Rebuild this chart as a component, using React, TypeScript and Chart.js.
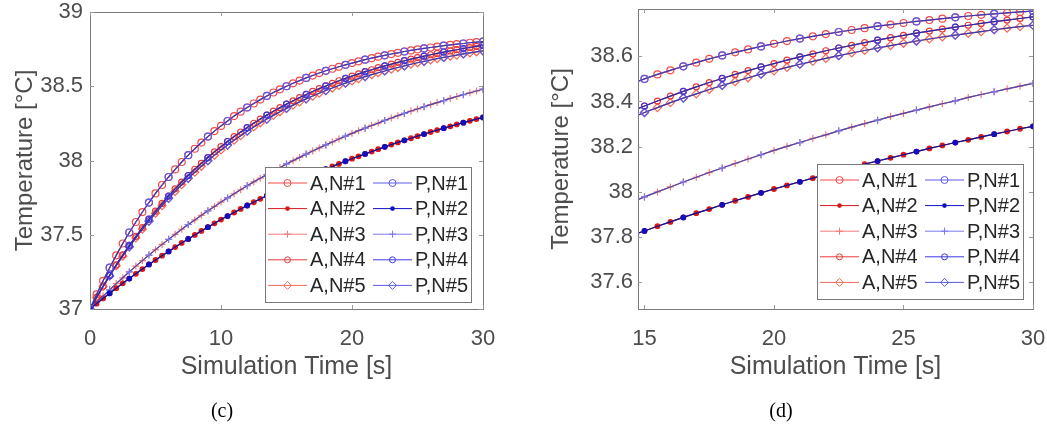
import React, { useEffect, useRef } from 'react';
import { Chart, registerables } from 'chart.js';

Chart.register(...registerables);

// ---- data ----
const timeS = [0, 0.5, 1, 1.5, 2, 2.5, 3, 3.5, 4, 4.5, 5, 5.5, 6, 6.5, 7, 7.5, 8, 8.5, 9, 9.5, 10, 10.5, 11, 11.5, 12, 12.5, 13, 13.5, 14, 14.5, 15, 15.5, 16, 16.5, 17, 17.5, 18, 18.5, 19, 19.5, 20, 20.5, 21, 21.5, 22, 22.5, 23, 23.5, 24, 24.5, 25, 25.5, 26, 26.5, 27, 27.5, 28, 28.5, 29, 29.5, 30];

const tempN1 = [37.000, 37.098, 37.190, 37.278, 37.361, 37.441, 37.515, 37.586, 37.653, 37.717, 37.778, 37.835, 37.889, 37.940, 37.990, 38.036, 38.079, 38.121, 38.161, 38.198, 38.233, 38.266, 38.299, 38.329, 38.357, 38.384, 38.410, 38.435, 38.458, 38.479, 38.500, 38.520, 38.538, 38.556, 38.572, 38.589, 38.604, 38.618, 38.631, 38.644, 38.656, 38.668, 38.679, 38.689, 38.699, 38.708, 38.717, 38.725, 38.734, 38.741, 38.748, 38.755, 38.761, 38.767, 38.773, 38.779, 38.784, 38.788, 38.793, 38.797, 38.801];
const tempN2 = [37.000, 37.036, 37.071, 37.106, 37.140, 37.173, 37.205, 37.237, 37.269, 37.300, 37.330, 37.359, 37.388, 37.417, 37.445, 37.472, 37.499, 37.526, 37.551, 37.577, 37.602, 37.626, 37.650, 37.674, 37.697, 37.719, 37.742, 37.763, 37.785, 37.806, 37.826, 37.847, 37.866, 37.886, 37.905, 37.923, 37.942, 37.960, 37.977, 37.995, 38.012, 38.028, 38.044, 38.060, 38.076, 38.092, 38.107, 38.122, 38.136, 38.150, 38.164, 38.178, 38.192, 38.205, 38.218, 38.230, 38.243, 38.255, 38.267, 38.279, 38.290];
const tempN3 = [37.000, 37.044, 37.087, 37.129, 37.171, 37.210, 37.250, 37.289, 37.326, 37.363, 37.400, 37.435, 37.469, 37.503, 37.537, 37.569, 37.600, 37.631, 37.661, 37.691, 37.720, 37.748, 37.776, 37.803, 37.830, 37.856, 37.881, 37.905, 37.929, 37.953, 37.977, 37.999, 38.021, 38.043, 38.064, 38.085, 38.105, 38.125, 38.145, 38.164, 38.183, 38.201, 38.218, 38.236, 38.252, 38.270, 38.286, 38.302, 38.317, 38.333, 38.347, 38.362, 38.376, 38.390, 38.403, 38.418, 38.431, 38.443, 38.456, 38.468, 38.480];
const tempN4 = [37.000, 37.079, 37.155, 37.227, 37.297, 37.364, 37.428, 37.489, 37.548, 37.605, 37.659, 37.711, 37.761, 37.809, 37.855, 37.899, 37.941, 37.981, 38.020, 38.058, 38.093, 38.128, 38.161, 38.192, 38.222, 38.251, 38.279, 38.306, 38.332, 38.356, 38.380, 38.402, 38.424, 38.445, 38.465, 38.484, 38.502, 38.520, 38.537, 38.553, 38.568, 38.583, 38.598, 38.611, 38.625, 38.637, 38.649, 38.661, 38.672, 38.683, 38.693, 38.703, 38.712, 38.721, 38.730, 38.738, 38.746, 38.754, 38.761, 38.768, 38.775];
const tempN5 = [37.000, 37.077, 37.151, 37.223, 37.291, 37.356, 37.419, 37.479, 37.537, 37.592, 37.645, 37.696, 37.745, 37.792, 37.837, 37.880, 37.921, 37.961, 37.999, 38.036, 38.071, 38.104, 38.137, 38.167, 38.197, 38.226, 38.253, 38.279, 38.304, 38.328, 38.351, 38.373, 38.395, 38.415, 38.434, 38.453, 38.471, 38.488, 38.505, 38.521, 38.536, 38.551, 38.565, 38.578, 38.591, 38.603, 38.615, 38.626, 38.637, 38.648, 38.658, 38.668, 38.677, 38.686, 38.694, 38.702, 38.710, 38.718, 38.725, 38.732, 38.738];

const labelsA = ['A,N#1', 'A,N#2', 'A,N#3', 'A,N#4', 'A,N#5'];
const labelsP = ['P,N#1', 'P,N#2', 'P,N#3', 'P,N#4', 'P,N#5'];

const xTicksC = [0, 10, 20, 30];
const yTicksC = [37, 37.5, 38, 38.5, 39];
const xTicksD = [15, 20, 25, 30];
const yTicksD = [37.6, 37.8, 38, 38.2, 38.4, 38.6];

const xTitle = 'Simulation Time [s]';
const yTitle = 'Temperature [°C]';

// ---- styles ----
const seriesValues = [tempN1, tempN2, tempN3, tempN4, tempN5];
const markerKinds = ['circle', 'dot', 'cross', 'circle', 'diamond'];
const markerSizes = [3.5, 2.3, 3.5, 3, 4];
const colorsA = ['#f24a4a', '#d81818', '#f47a7a', '#e83a3a', '#f26a5a'];
const colorsP = ['#5a5af2', '#1010c0', '#7a7af2', '#3a3ae0', '#5a5ae6'];
const lineA = ['#c83040', '#b01020', '#d05060', '#c02838', '#c84848'];
const lineP = ['#3a3ab8', '#101098', '#4a4ab0', '#2a2aa8', '#3a3ab0'];

const FONT = "'Liberation Sans', Arial, sans-serif";
const TEXT = '#4d4d4d';

function drawMarker(ctx, kind, x, y, r, color) {
  ctx.save();
  ctx.strokeStyle = color;
  ctx.fillStyle = color;
  ctx.lineWidth = 1;
  ctx.beginPath();
  if (kind === 'circle') {
    ctx.arc(x, y, r, 0, Math.PI * 2);
    ctx.stroke();
  } else if (kind === 'dot') {
    ctx.arc(x, y, r, 0, Math.PI * 2);
    ctx.fill();
  } else if (kind === 'cross') {
    ctx.moveTo(x - r, y); ctx.lineTo(x + r, y);
    ctx.moveTo(x, y - r); ctx.lineTo(x, y + r);
    ctx.stroke();
  } else if (kind === 'diamond') {
    ctx.moveTo(x, y - r); ctx.lineTo(x + r, y); ctx.lineTo(x, y + r); ctx.lineTo(x - r, y);
    ctx.closePath();
    ctx.stroke();
  }
  ctx.restore();
}

const decorPlugin = {
  id: 'decor',
  afterDatasetsDraw(chart, _args, opts) {
    const { ctx, chartArea: a } = chart;
    const xs = chart.scales.x;
    const ys = chart.scales.y;
    ctx.save();
    ctx.strokeStyle = '#7a7a7a';
    ctx.lineWidth = 1;
    ctx.strokeRect(Math.round(a.left) + 0.5, Math.round(a.top) + 0.5, Math.round(a.right - a.left), Math.round(a.bottom - a.top));
    ctx.strokeStyle = '#9a9a9a';
    ctx.beginPath();
    xs.ticks.forEach((t) => {
      const px = Math.round(xs.getPixelForValue(t.value)) + 0.5;
      ctx.moveTo(px, a.bottom); ctx.lineTo(px, a.bottom - 4);
      ctx.moveTo(px, a.top); ctx.lineTo(px, a.top + 4);
    });
    ys.ticks.forEach((t) => {
      const py = Math.round(ys.getPixelForValue(t.value)) + 0.5;
      ctx.moveTo(a.left, py); ctx.lineTo(a.left + 4, py);
      ctx.moveTo(a.right, py); ctx.lineTo(a.right - 4, py);
    });
    ctx.stroke();

    const w = 206, h = 135;
    const x0 = Math.round(a.right - opts.gapRight - w);
    const y0 = Math.round(a.bottom - opts.gapBottom - h);
    ctx.fillStyle = '#ffffff';
    ctx.fillRect(x0, y0, w, h);
    ctx.strokeStyle = '#7a7a7a';
    ctx.strokeRect(x0 + 0.5, y0 + 0.5, w, h);
    ctx.font = `20px ${FONT}`;
    ctx.textBaseline = 'middle';
    ctx.textAlign = 'left';
    for (let i = 0; i < 5; i++) {
      const yy = y0 + 16 + i * 25.6;
      const cols = [
        { lx: x0 + 3, label: labelsA[i], color: colorsA[i] },
        { lx: x0 + 108, label: labelsP[i], color: colorsP[i] },
      ];
      cols.forEach((c) => {
        ctx.strokeStyle = c.color;
        ctx.lineWidth = 1;
        ctx.beginPath();
        ctx.moveTo(c.lx, yy); ctx.lineTo(c.lx + 39, yy);
        ctx.stroke();
        drawMarker(ctx, markerKinds[i], c.lx + 19.5, yy, markerSizes[i], c.color);
        ctx.fillStyle = '#262626';
        ctx.fillText(c.label, c.lx + 42, yy + 1);
      });
    }
    ctx.restore();
  },
};

function fmt(v) {
  const s = Number(v).toFixed(1);
  return s.endsWith('.0') ? s.slice(0, -2) : s;
}

function makeDatasets() {
  const sets = [];
  for (let i = 0; i < 5; i++) {
    const series = [
      { color: colorsA[i], line: lineA[i], label: labelsA[i], every: 1, order: 1 },
      { color: colorsP[i], line: lineP[i], label: labelsP[i], every: 3, order: 0 },
    ];
    series.forEach((sd) => {
      const kind = markerKinds[i];
      const r = markerSizes[i];
      sets.push({
        label: sd.label,
        data: timeS.map((t, j) => ({ x: t, y: seriesValues[i][j] })),
        borderColor: sd.line,
        backgroundColor: sd.color,
        borderWidth: 1.2,
        pointStyle: kind === 'dot' ? 'circle' : kind === 'diamond' ? 'rectRot' : kind,
        pointBorderColor: sd.color,
        pointBackgroundColor: kind === 'dot' ? sd.color : 'rgba(0,0,0,0)',
        pointBorderWidth: 1.2,
        pointRadius: sd.every > 1 ? (c) => (c.dataIndex % sd.every === 0 ? r : 0) : r,
        tension: 0,
        order: sd.order,
      });
    });
  }
  return sets;
}

function buildConfig(cfg) {
  return {
    type: 'line',
    data: { datasets: makeDatasets() },
    options: {
      animation: false,
      responsive: false,
      devicePixelRatio: 1,
      parsing: false,
      layout: { padding: { left: 0, top: cfg.padTop, right: cfg.padRight, bottom: 0 } },
      plugins: {
        legend: { display: false },
        tooltip: { enabled: false },
        decor: { gapRight: cfg.gapRight, gapBottom: cfg.gapBottom },
      },
      scales: {
        x: {
          type: 'linear',
          min: cfg.xMin,
          max: cfg.xMax,
          grid: { display: false, drawTicks: false },
          border: { display: false },
          afterBuildTicks: (s) => { s.ticks = cfg.xTicks.map((v) => ({ value: v })); },
          afterFit: (s) => { s.height = cfg.xAxisH; s.paddingLeft = 0; s.paddingRight = 0; },
          ticks: { autoSkip: false, maxRotation: 0, padding: 17, color: TEXT, font: { family: FONT, size: 22 }, callback: (v) => fmt(v) },
          title: { display: true, text: xTitle, color: TEXT, font: { family: FONT, size: 25 }, padding: { top: 0, bottom: 18 } },
        },
        y: {
          type: 'linear',
          min: cfg.yMin,
          max: cfg.yMax,
          grid: { display: false, drawTicks: false },
          border: { display: false },
          afterBuildTicks: (s) => { s.ticks = cfg.yTicks.map((v) => ({ value: v })); },
          afterFit: (s) => { s.width = cfg.yAxisW; s.paddingTop = 0; s.paddingBottom = 0; },
          ticks: { autoSkip: false, padding: cfg.yTickPad, color: TEXT, font: { family: FONT, size: 22 }, callback: (v) => fmt(v) },
          title: { display: true, text: yTitle, color: TEXT, font: { family: FONT, size: 24 }, padding: { top: cfg.yTitlePad, bottom: 0 } },
        },
      },
    },
    plugins: [decorPlugin],
  };
}

const chartC = {
  left: 0, w: 520, h: 400,
  xMin: 0, xMax: 30, yMin: 37, yMax: 39,
  xTicks: xTicksC, yTicks: yTicksC,
  padTop: 12, padRight: 37, xAxisH: 91, yAxisW: 90, yTickPad: 7, yTitlePad: 11,
  gapRight: 12, gapBottom: 7,
};
const chartD = {
  left: 520, w: 527, h: 400,
  xMin: 14.75, xMax: 30, yMin: 37.48, yMax: 38.81,
  xTicks: xTicksD, yTicks: yTicksD,
  padTop: 9, padRight: 14, xAxisH: 91, yAxisW: 118, yTickPad: 5, yTitlePad: 27,
  gapRight: 10, gapBottom: 10,
};

function TempChart({ cfg }) {
  const ref = useRef(null);
  useEffect(() => {
    const chart = new Chart(ref.current, buildConfig(cfg));
    return () => chart.destroy();
  }, []);
  return (
    <canvas
      ref={ref}
      width={cfg.w}
      height={cfg.h}
      style={{ position: 'absolute', left: cfg.left, top: 0, width: cfg.w, height: cfg.h }}
    />
  );
}

export default function App() {
  const cap = { position: 'absolute', top: 397, width: 100, textAlign: 'center', fontFamily: "'Liberation Serif', 'Times New Roman', serif", fontSize: 20, lineHeight: '26px', color: '#000' };
  return (
    <div style={{ position: 'absolute', left: 0, top: 0, width: 1047, height: 431, background: '#fff', overflow: 'hidden' }}>
      <TempChart cfg={chartC} />
      <TempChart cfg={chartD} />
      <div style={{ ...cap, left: 172 }}>(c)</div>
      <div style={{ ...cap, left: 731 }}>(d)</div>
    </div>
  );
}
